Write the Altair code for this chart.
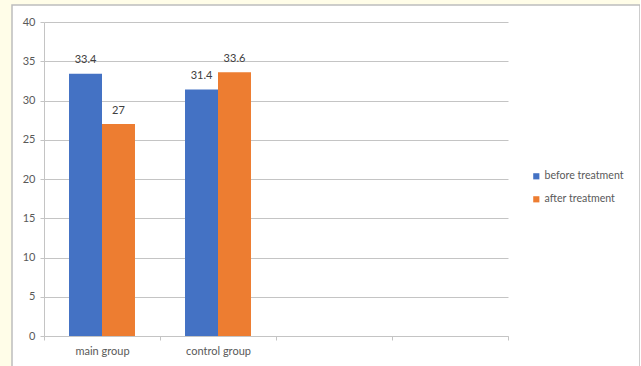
import altair as alt
import pandas as pd

# Category slots on the x axis (the last two are empty placeholders)
slots = ["main group", "control group", "slot 3", "slot 4"]
groups = ["main group", "control group"]
series = ["before treatment", "after treatment"]
before_values = [33.4, 31.4]
after_values = [27, 33.6]
colors = ["#4472C4", "#ED7D31"]
y_ticks = [0, 5, 10, 15, 20, 25, 30, 35, 40]

rows = []
for g, b, a in zip(groups, before_values, after_values):
    rows.append({"group": g, "series": series[0], "value": b})
    rows.append({"group": g, "series": series[1], "value": a})
df = pd.DataFrame(rows)

FONT = "Lato"
GRID = "#C4C4C4"

x_enc = alt.X(
    "group:N",
    sort=slots,
    scale=alt.Scale(domain=slots, range=[32, 496], paddingInner=0, paddingOuter=0),
    axis=alt.Axis(
        title=None,
        labelExpr="datum.value == 'main group' || datum.value == 'control group' ? datum.value : ''",
        tickBand="extent",
        offset=-34,
        grid=False,
        domainColor=GRID,
        tickColor=GRID,
        tickSize=4,
        labelPadding=5,
        labelAngle=0,
        labelFont=FONT,
        labelFontSize=11,
        labelColor="#595959",
    ),
)
xoff_enc = alt.XOffset(
    "series:N",
    sort=series,
    scale=alt.Scale(domain=series, paddingInner=0, paddingOuter=0.758),
)
y_enc = alt.Y(
    "value:Q",
    scale=alt.Scale(domain=[0, 40], range=[331, 17], nice=False, zero=True),
    axis=alt.Axis(
        title=None,
        values=y_ticks,
        offset=-32,
        grid=True,
        gridColor=GRID,
        domainColor=GRID,
        tickColor=GRID,
        tickSize=4,
        labelPadding=5,
        labelFont=FONT,
        labelFontSize=11,
        labelColor="#595959",
    ),
)

bars = alt.Chart(df).mark_bar().encode(
    x=x_enc,
    xOffset=xoff_enc,
    y=y_enc,
    color=alt.Color(
        "series:N",
        sort=series,
        scale=alt.Scale(domain=series, range=colors),
        legend=alt.Legend(
            orient="none",
            legendX=519,
            legendY=166,
            title=None,
            symbolType="square",
            symbolSize=38,
            symbolStrokeWidth=0,
            labelFont=FONT,
            labelFontSize=10.6,
            labelColor="#595959",
            rowPadding=12,
            labelOffset=3,
        ),
    ),
)

labels = alt.Chart(df).mark_text(
    baseline="middle", dy=-13.5, font=FONT, fontSize=11, color="#404040"
).encode(
    x=x_enc,
    xOffset=xoff_enc,
    y=y_enc,
    text=alt.Text("value:Q"),
)

chart = (
    alt.layer(bars, labels)
    .properties(
        width=628,
        height=365,
        padding={"left": 12, "top": 5, "right": 0, "bottom": 0},
        autosize=alt.AutoSizeParams(type="none"),
        background="#FFFDE8",
    )
    .configure_view(fill="white", stroke="#BDBDBD", strokeWidth=1.5)
)

chart.save("out.html", embed_options={"renderer": "svg", "actions": False})
